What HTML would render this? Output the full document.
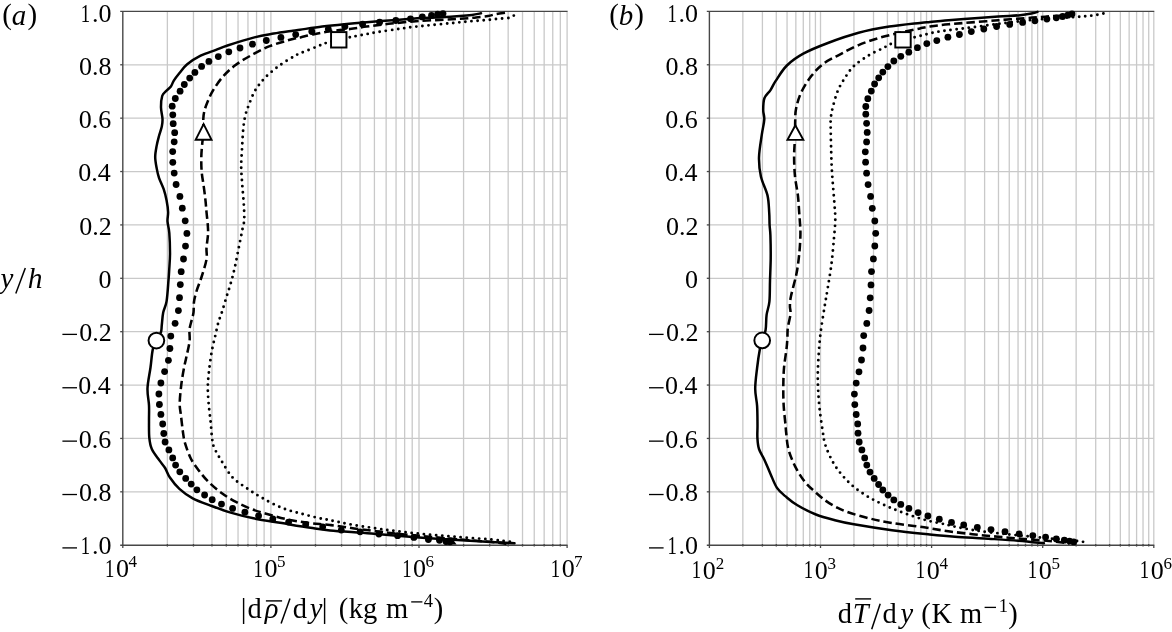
<!DOCTYPE html>
<html><head><meta charset="utf-8"><style>
html,body{margin:0;padding:0;background:#fff;}
body{width:1172px;height:632px;overflow:hidden;}
svg{display:block;}
text{font-family:"Liberation Serif",serif;fill:#000;}
.tx{will-change:transform;}
</style></head><body>
<svg width="1172" height="632" viewBox="0 0 1172 632">
<rect width="1172" height="632" fill="#fff"/>
<line x1="167.38" y1="11.4" x2="167.38" y2="545.2" stroke="#c9c9c9" stroke-width="1.3"/>
<line x1="193.46" y1="11.4" x2="193.46" y2="545.2" stroke="#c9c9c9" stroke-width="1.3"/>
<line x1="211.97" y1="11.4" x2="211.97" y2="545.2" stroke="#c9c9c9" stroke-width="1.3"/>
<line x1="226.32" y1="11.4" x2="226.32" y2="545.2" stroke="#c9c9c9" stroke-width="1.3"/>
<line x1="238.04" y1="11.4" x2="238.04" y2="545.2" stroke="#c9c9c9" stroke-width="1.3"/>
<line x1="247.96" y1="11.4" x2="247.96" y2="545.2" stroke="#c9c9c9" stroke-width="1.3"/>
<line x1="256.55" y1="11.4" x2="256.55" y2="545.2" stroke="#c9c9c9" stroke-width="1.3"/>
<line x1="264.12" y1="11.4" x2="264.12" y2="545.2" stroke="#c9c9c9" stroke-width="1.3"/>
<line x1="270.90" y1="11.4" x2="270.90" y2="545.2" stroke="#c9c9c9" stroke-width="1.3"/>
<line x1="315.48" y1="11.4" x2="315.48" y2="545.2" stroke="#c9c9c9" stroke-width="1.3"/>
<line x1="341.56" y1="11.4" x2="341.56" y2="545.2" stroke="#c9c9c9" stroke-width="1.3"/>
<line x1="360.07" y1="11.4" x2="360.07" y2="545.2" stroke="#c9c9c9" stroke-width="1.3"/>
<line x1="374.42" y1="11.4" x2="374.42" y2="545.2" stroke="#c9c9c9" stroke-width="1.3"/>
<line x1="386.14" y1="11.4" x2="386.14" y2="545.2" stroke="#c9c9c9" stroke-width="1.3"/>
<line x1="396.06" y1="11.4" x2="396.06" y2="545.2" stroke="#c9c9c9" stroke-width="1.3"/>
<line x1="404.65" y1="11.4" x2="404.65" y2="545.2" stroke="#c9c9c9" stroke-width="1.3"/>
<line x1="412.22" y1="11.4" x2="412.22" y2="545.2" stroke="#c9c9c9" stroke-width="1.3"/>
<line x1="419.00" y1="11.4" x2="419.00" y2="545.2" stroke="#c9c9c9" stroke-width="1.3"/>
<line x1="463.58" y1="11.4" x2="463.58" y2="545.2" stroke="#c9c9c9" stroke-width="1.3"/>
<line x1="489.66" y1="11.4" x2="489.66" y2="545.2" stroke="#c9c9c9" stroke-width="1.3"/>
<line x1="508.17" y1="11.4" x2="508.17" y2="545.2" stroke="#c9c9c9" stroke-width="1.3"/>
<line x1="522.52" y1="11.4" x2="522.52" y2="545.2" stroke="#c9c9c9" stroke-width="1.3"/>
<line x1="534.24" y1="11.4" x2="534.24" y2="545.2" stroke="#c9c9c9" stroke-width="1.3"/>
<line x1="544.16" y1="11.4" x2="544.16" y2="545.2" stroke="#c9c9c9" stroke-width="1.3"/>
<line x1="552.75" y1="11.4" x2="552.75" y2="545.2" stroke="#c9c9c9" stroke-width="1.3"/>
<line x1="560.32" y1="11.4" x2="560.32" y2="545.2" stroke="#c9c9c9" stroke-width="1.3"/>
<line x1="567.10" y1="11.4" x2="567.10" y2="545.2" stroke="#c9c9c9" stroke-width="1.3"/>
<line x1="122.8" y1="64.78" x2="567.10" y2="64.78" stroke="#c9c9c9" stroke-width="1.3"/>
<line x1="122.8" y1="118.16" x2="567.10" y2="118.16" stroke="#c9c9c9" stroke-width="1.3"/>
<line x1="122.8" y1="171.54" x2="567.10" y2="171.54" stroke="#c9c9c9" stroke-width="1.3"/>
<line x1="122.8" y1="224.92" x2="567.10" y2="224.92" stroke="#c9c9c9" stroke-width="1.3"/>
<line x1="122.8" y1="278.30" x2="567.10" y2="278.30" stroke="#c9c9c9" stroke-width="1.3"/>
<line x1="122.8" y1="331.68" x2="567.10" y2="331.68" stroke="#c9c9c9" stroke-width="1.3"/>
<line x1="122.8" y1="385.06" x2="567.10" y2="385.06" stroke="#c9c9c9" stroke-width="1.3"/>
<line x1="122.8" y1="438.44" x2="567.10" y2="438.44" stroke="#c9c9c9" stroke-width="1.3"/>
<line x1="122.8" y1="491.82" x2="567.10" y2="491.82" stroke="#c9c9c9" stroke-width="1.3"/>
<line x1="122.8" y1="11.4" x2="122.8" y2="545.2" stroke="#474747" stroke-width="1.4"/>
<line x1="120.2" y1="11.4" x2="567.60" y2="11.4" stroke="#474747" stroke-width="1.4"/>
<line x1="120.2" y1="545.2" x2="567.60" y2="545.2" stroke="#474747" stroke-width="1.4"/>
<line x1="120.2" y1="64.78" x2="122.8" y2="64.78" stroke="#474747" stroke-width="1.3"/>
<line x1="120.2" y1="118.16" x2="122.8" y2="118.16" stroke="#474747" stroke-width="1.3"/>
<line x1="120.2" y1="171.54" x2="122.8" y2="171.54" stroke="#474747" stroke-width="1.3"/>
<line x1="120.2" y1="224.92" x2="122.8" y2="224.92" stroke="#474747" stroke-width="1.3"/>
<line x1="120.2" y1="278.30" x2="122.8" y2="278.30" stroke="#474747" stroke-width="1.3"/>
<line x1="120.2" y1="331.68" x2="122.8" y2="331.68" stroke="#474747" stroke-width="1.3"/>
<line x1="120.2" y1="385.06" x2="122.8" y2="385.06" stroke="#474747" stroke-width="1.3"/>
<line x1="120.2" y1="438.44" x2="122.8" y2="438.44" stroke="#474747" stroke-width="1.3"/>
<line x1="120.2" y1="491.82" x2="122.8" y2="491.82" stroke="#474747" stroke-width="1.3"/>
<line x1="122.80" y1="545.2" x2="122.80" y2="548.0" stroke="#474747" stroke-width="1.3"/>
<line x1="167.38" y1="544.0" x2="167.38" y2="546.6" stroke="#474747" stroke-width="1.3"/>
<line x1="193.46" y1="544.0" x2="193.46" y2="546.6" stroke="#474747" stroke-width="1.3"/>
<line x1="211.97" y1="544.0" x2="211.97" y2="546.6" stroke="#474747" stroke-width="1.3"/>
<line x1="226.32" y1="544.0" x2="226.32" y2="546.6" stroke="#474747" stroke-width="1.3"/>
<line x1="238.04" y1="544.0" x2="238.04" y2="546.6" stroke="#474747" stroke-width="1.3"/>
<line x1="247.96" y1="544.0" x2="247.96" y2="546.6" stroke="#474747" stroke-width="1.3"/>
<line x1="256.55" y1="544.0" x2="256.55" y2="546.6" stroke="#474747" stroke-width="1.3"/>
<line x1="264.12" y1="544.0" x2="264.12" y2="546.6" stroke="#474747" stroke-width="1.3"/>
<line x1="270.90" y1="545.2" x2="270.90" y2="548.0" stroke="#474747" stroke-width="1.3"/>
<line x1="315.48" y1="544.0" x2="315.48" y2="546.6" stroke="#474747" stroke-width="1.3"/>
<line x1="341.56" y1="544.0" x2="341.56" y2="546.6" stroke="#474747" stroke-width="1.3"/>
<line x1="360.07" y1="544.0" x2="360.07" y2="546.6" stroke="#474747" stroke-width="1.3"/>
<line x1="374.42" y1="544.0" x2="374.42" y2="546.6" stroke="#474747" stroke-width="1.3"/>
<line x1="386.14" y1="544.0" x2="386.14" y2="546.6" stroke="#474747" stroke-width="1.3"/>
<line x1="396.06" y1="544.0" x2="396.06" y2="546.6" stroke="#474747" stroke-width="1.3"/>
<line x1="404.65" y1="544.0" x2="404.65" y2="546.6" stroke="#474747" stroke-width="1.3"/>
<line x1="412.22" y1="544.0" x2="412.22" y2="546.6" stroke="#474747" stroke-width="1.3"/>
<line x1="419.00" y1="545.2" x2="419.00" y2="548.0" stroke="#474747" stroke-width="1.3"/>
<line x1="463.58" y1="544.0" x2="463.58" y2="546.6" stroke="#474747" stroke-width="1.3"/>
<line x1="489.66" y1="544.0" x2="489.66" y2="546.6" stroke="#474747" stroke-width="1.3"/>
<line x1="508.17" y1="544.0" x2="508.17" y2="546.6" stroke="#474747" stroke-width="1.3"/>
<line x1="522.52" y1="544.0" x2="522.52" y2="546.6" stroke="#474747" stroke-width="1.3"/>
<line x1="534.24" y1="544.0" x2="534.24" y2="546.6" stroke="#474747" stroke-width="1.3"/>
<line x1="544.16" y1="544.0" x2="544.16" y2="546.6" stroke="#474747" stroke-width="1.3"/>
<line x1="552.75" y1="544.0" x2="552.75" y2="546.6" stroke="#474747" stroke-width="1.3"/>
<line x1="560.32" y1="544.0" x2="560.32" y2="546.6" stroke="#474747" stroke-width="1.3"/>
<line x1="567.10" y1="545.2" x2="567.10" y2="548.0" stroke="#474747" stroke-width="1.3"/>
<line x1="742.84" y1="11.4" x2="742.84" y2="545.2" stroke="#c9c9c9" stroke-width="1.3"/>
<line x1="762.41" y1="11.4" x2="762.41" y2="545.2" stroke="#c9c9c9" stroke-width="1.3"/>
<line x1="776.29" y1="11.4" x2="776.29" y2="545.2" stroke="#c9c9c9" stroke-width="1.3"/>
<line x1="787.06" y1="11.4" x2="787.06" y2="545.2" stroke="#c9c9c9" stroke-width="1.3"/>
<line x1="795.85" y1="11.4" x2="795.85" y2="545.2" stroke="#c9c9c9" stroke-width="1.3"/>
<line x1="803.29" y1="11.4" x2="803.29" y2="545.2" stroke="#c9c9c9" stroke-width="1.3"/>
<line x1="809.73" y1="11.4" x2="809.73" y2="545.2" stroke="#c9c9c9" stroke-width="1.3"/>
<line x1="815.42" y1="11.4" x2="815.42" y2="545.2" stroke="#c9c9c9" stroke-width="1.3"/>
<line x1="820.50" y1="11.4" x2="820.50" y2="545.2" stroke="#c9c9c9" stroke-width="1.3"/>
<line x1="853.94" y1="11.4" x2="853.94" y2="545.2" stroke="#c9c9c9" stroke-width="1.3"/>
<line x1="873.51" y1="11.4" x2="873.51" y2="545.2" stroke="#c9c9c9" stroke-width="1.3"/>
<line x1="887.39" y1="11.4" x2="887.39" y2="545.2" stroke="#c9c9c9" stroke-width="1.3"/>
<line x1="898.16" y1="11.4" x2="898.16" y2="545.2" stroke="#c9c9c9" stroke-width="1.3"/>
<line x1="906.95" y1="11.4" x2="906.95" y2="545.2" stroke="#c9c9c9" stroke-width="1.3"/>
<line x1="914.39" y1="11.4" x2="914.39" y2="545.2" stroke="#c9c9c9" stroke-width="1.3"/>
<line x1="920.83" y1="11.4" x2="920.83" y2="545.2" stroke="#c9c9c9" stroke-width="1.3"/>
<line x1="926.52" y1="11.4" x2="926.52" y2="545.2" stroke="#c9c9c9" stroke-width="1.3"/>
<line x1="931.60" y1="11.4" x2="931.60" y2="545.2" stroke="#c9c9c9" stroke-width="1.3"/>
<line x1="965.04" y1="11.4" x2="965.04" y2="545.2" stroke="#c9c9c9" stroke-width="1.3"/>
<line x1="984.61" y1="11.4" x2="984.61" y2="545.2" stroke="#c9c9c9" stroke-width="1.3"/>
<line x1="998.49" y1="11.4" x2="998.49" y2="545.2" stroke="#c9c9c9" stroke-width="1.3"/>
<line x1="1009.26" y1="11.4" x2="1009.26" y2="545.2" stroke="#c9c9c9" stroke-width="1.3"/>
<line x1="1018.05" y1="11.4" x2="1018.05" y2="545.2" stroke="#c9c9c9" stroke-width="1.3"/>
<line x1="1025.49" y1="11.4" x2="1025.49" y2="545.2" stroke="#c9c9c9" stroke-width="1.3"/>
<line x1="1031.93" y1="11.4" x2="1031.93" y2="545.2" stroke="#c9c9c9" stroke-width="1.3"/>
<line x1="1037.62" y1="11.4" x2="1037.62" y2="545.2" stroke="#c9c9c9" stroke-width="1.3"/>
<line x1="1042.70" y1="11.4" x2="1042.70" y2="545.2" stroke="#c9c9c9" stroke-width="1.3"/>
<line x1="1076.14" y1="11.4" x2="1076.14" y2="545.2" stroke="#c9c9c9" stroke-width="1.3"/>
<line x1="1095.71" y1="11.4" x2="1095.71" y2="545.2" stroke="#c9c9c9" stroke-width="1.3"/>
<line x1="1109.59" y1="11.4" x2="1109.59" y2="545.2" stroke="#c9c9c9" stroke-width="1.3"/>
<line x1="1120.36" y1="11.4" x2="1120.36" y2="545.2" stroke="#c9c9c9" stroke-width="1.3"/>
<line x1="1129.15" y1="11.4" x2="1129.15" y2="545.2" stroke="#c9c9c9" stroke-width="1.3"/>
<line x1="1136.59" y1="11.4" x2="1136.59" y2="545.2" stroke="#c9c9c9" stroke-width="1.3"/>
<line x1="1143.03" y1="11.4" x2="1143.03" y2="545.2" stroke="#c9c9c9" stroke-width="1.3"/>
<line x1="1148.72" y1="11.4" x2="1148.72" y2="545.2" stroke="#c9c9c9" stroke-width="1.3"/>
<line x1="1153.80" y1="11.4" x2="1153.80" y2="545.2" stroke="#c9c9c9" stroke-width="1.3"/>
<line x1="709.4" y1="64.78" x2="1153.80" y2="64.78" stroke="#c9c9c9" stroke-width="1.3"/>
<line x1="709.4" y1="118.16" x2="1153.80" y2="118.16" stroke="#c9c9c9" stroke-width="1.3"/>
<line x1="709.4" y1="171.54" x2="1153.80" y2="171.54" stroke="#c9c9c9" stroke-width="1.3"/>
<line x1="709.4" y1="224.92" x2="1153.80" y2="224.92" stroke="#c9c9c9" stroke-width="1.3"/>
<line x1="709.4" y1="278.30" x2="1153.80" y2="278.30" stroke="#c9c9c9" stroke-width="1.3"/>
<line x1="709.4" y1="331.68" x2="1153.80" y2="331.68" stroke="#c9c9c9" stroke-width="1.3"/>
<line x1="709.4" y1="385.06" x2="1153.80" y2="385.06" stroke="#c9c9c9" stroke-width="1.3"/>
<line x1="709.4" y1="438.44" x2="1153.80" y2="438.44" stroke="#c9c9c9" stroke-width="1.3"/>
<line x1="709.4" y1="491.82" x2="1153.80" y2="491.82" stroke="#c9c9c9" stroke-width="1.3"/>
<line x1="709.4" y1="11.4" x2="709.4" y2="545.2" stroke="#474747" stroke-width="1.4"/>
<line x1="706.8" y1="11.4" x2="1154.30" y2="11.4" stroke="#474747" stroke-width="1.4"/>
<line x1="706.8" y1="545.2" x2="1154.30" y2="545.2" stroke="#474747" stroke-width="1.4"/>
<line x1="706.8" y1="64.78" x2="709.4" y2="64.78" stroke="#474747" stroke-width="1.3"/>
<line x1="706.8" y1="118.16" x2="709.4" y2="118.16" stroke="#474747" stroke-width="1.3"/>
<line x1="706.8" y1="171.54" x2="709.4" y2="171.54" stroke="#474747" stroke-width="1.3"/>
<line x1="706.8" y1="224.92" x2="709.4" y2="224.92" stroke="#474747" stroke-width="1.3"/>
<line x1="706.8" y1="278.30" x2="709.4" y2="278.30" stroke="#474747" stroke-width="1.3"/>
<line x1="706.8" y1="331.68" x2="709.4" y2="331.68" stroke="#474747" stroke-width="1.3"/>
<line x1="706.8" y1="385.06" x2="709.4" y2="385.06" stroke="#474747" stroke-width="1.3"/>
<line x1="706.8" y1="438.44" x2="709.4" y2="438.44" stroke="#474747" stroke-width="1.3"/>
<line x1="706.8" y1="491.82" x2="709.4" y2="491.82" stroke="#474747" stroke-width="1.3"/>
<line x1="709.40" y1="545.2" x2="709.40" y2="548.0" stroke="#474747" stroke-width="1.3"/>
<line x1="742.84" y1="544.0" x2="742.84" y2="546.6" stroke="#474747" stroke-width="1.3"/>
<line x1="762.41" y1="544.0" x2="762.41" y2="546.6" stroke="#474747" stroke-width="1.3"/>
<line x1="776.29" y1="544.0" x2="776.29" y2="546.6" stroke="#474747" stroke-width="1.3"/>
<line x1="787.06" y1="544.0" x2="787.06" y2="546.6" stroke="#474747" stroke-width="1.3"/>
<line x1="795.85" y1="544.0" x2="795.85" y2="546.6" stroke="#474747" stroke-width="1.3"/>
<line x1="803.29" y1="544.0" x2="803.29" y2="546.6" stroke="#474747" stroke-width="1.3"/>
<line x1="809.73" y1="544.0" x2="809.73" y2="546.6" stroke="#474747" stroke-width="1.3"/>
<line x1="815.42" y1="544.0" x2="815.42" y2="546.6" stroke="#474747" stroke-width="1.3"/>
<line x1="820.50" y1="545.2" x2="820.50" y2="548.0" stroke="#474747" stroke-width="1.3"/>
<line x1="853.94" y1="544.0" x2="853.94" y2="546.6" stroke="#474747" stroke-width="1.3"/>
<line x1="873.51" y1="544.0" x2="873.51" y2="546.6" stroke="#474747" stroke-width="1.3"/>
<line x1="887.39" y1="544.0" x2="887.39" y2="546.6" stroke="#474747" stroke-width="1.3"/>
<line x1="898.16" y1="544.0" x2="898.16" y2="546.6" stroke="#474747" stroke-width="1.3"/>
<line x1="906.95" y1="544.0" x2="906.95" y2="546.6" stroke="#474747" stroke-width="1.3"/>
<line x1="914.39" y1="544.0" x2="914.39" y2="546.6" stroke="#474747" stroke-width="1.3"/>
<line x1="920.83" y1="544.0" x2="920.83" y2="546.6" stroke="#474747" stroke-width="1.3"/>
<line x1="926.52" y1="544.0" x2="926.52" y2="546.6" stroke="#474747" stroke-width="1.3"/>
<line x1="931.60" y1="545.2" x2="931.60" y2="548.0" stroke="#474747" stroke-width="1.3"/>
<line x1="965.04" y1="544.0" x2="965.04" y2="546.6" stroke="#474747" stroke-width="1.3"/>
<line x1="984.61" y1="544.0" x2="984.61" y2="546.6" stroke="#474747" stroke-width="1.3"/>
<line x1="998.49" y1="544.0" x2="998.49" y2="546.6" stroke="#474747" stroke-width="1.3"/>
<line x1="1009.26" y1="544.0" x2="1009.26" y2="546.6" stroke="#474747" stroke-width="1.3"/>
<line x1="1018.05" y1="544.0" x2="1018.05" y2="546.6" stroke="#474747" stroke-width="1.3"/>
<line x1="1025.49" y1="544.0" x2="1025.49" y2="546.6" stroke="#474747" stroke-width="1.3"/>
<line x1="1031.93" y1="544.0" x2="1031.93" y2="546.6" stroke="#474747" stroke-width="1.3"/>
<line x1="1037.62" y1="544.0" x2="1037.62" y2="546.6" stroke="#474747" stroke-width="1.3"/>
<line x1="1042.70" y1="545.2" x2="1042.70" y2="548.0" stroke="#474747" stroke-width="1.3"/>
<line x1="1076.14" y1="544.0" x2="1076.14" y2="546.6" stroke="#474747" stroke-width="1.3"/>
<line x1="1095.71" y1="544.0" x2="1095.71" y2="546.6" stroke="#474747" stroke-width="1.3"/>
<line x1="1109.59" y1="544.0" x2="1109.59" y2="546.6" stroke="#474747" stroke-width="1.3"/>
<line x1="1120.36" y1="544.0" x2="1120.36" y2="546.6" stroke="#474747" stroke-width="1.3"/>
<line x1="1129.15" y1="544.0" x2="1129.15" y2="546.6" stroke="#474747" stroke-width="1.3"/>
<line x1="1136.59" y1="544.0" x2="1136.59" y2="546.6" stroke="#474747" stroke-width="1.3"/>
<line x1="1143.03" y1="544.0" x2="1143.03" y2="546.6" stroke="#474747" stroke-width="1.3"/>
<line x1="1148.72" y1="544.0" x2="1148.72" y2="546.6" stroke="#474747" stroke-width="1.3"/>
<line x1="1153.80" y1="545.2" x2="1153.80" y2="548.0" stroke="#474747" stroke-width="1.3"/>
<path d="M513.80,15.60 C513.15,15.95 511.60,17.23 509.90,17.70 C508.20,18.17 505.70,18.20 503.60,18.40 C501.50,18.60 499.38,18.70 497.30,18.90 C495.22,19.10 493.18,19.40 491.10,19.60 C489.02,19.80 486.90,19.92 484.80,20.10 C482.70,20.28 480.60,20.53 478.50,20.70 C476.40,20.87 474.28,20.93 472.20,21.10 C470.12,21.27 468.03,21.50 466.00,21.70 C463.97,21.90 468.28,21.48 460.00,22.30 C451.72,23.12 426.35,25.52 416.30,26.60 C406.25,27.68 406.15,27.88 399.70,28.80 C393.25,29.72 384.07,31.03 377.60,32.10 C371.13,33.17 365.90,34.27 360.90,35.20 C355.90,36.13 352.95,36.55 347.60,37.70 C342.25,38.85 333.90,40.62 328.80,42.10 C323.70,43.58 321.63,44.78 317.00,46.60 C312.37,48.42 304.92,51.33 301.00,53.00 C297.08,54.67 297.25,54.38 293.50,56.60 C289.75,58.82 283.25,62.77 278.50,66.30 C273.75,69.83 268.92,73.72 265.00,77.80 C261.08,81.88 257.67,86.33 255.00,90.80 C252.33,95.27 250.60,100.53 249.00,104.60 C247.40,108.67 246.35,111.22 245.40,115.20 C244.45,119.18 243.85,123.12 243.30,128.50 C242.75,133.88 242.45,141.17 242.10,147.50 C241.75,153.83 241.17,160.18 241.20,166.50 C241.23,172.82 241.87,179.08 242.30,185.40 C242.73,191.72 243.48,198.63 243.80,204.40 C244.12,210.17 244.42,215.90 244.20,220.00 C243.98,224.10 243.42,224.33 242.50,229.00 C241.58,233.67 239.97,241.67 238.70,248.00 C237.43,254.33 236.17,261.32 234.90,267.00 C233.63,272.68 232.52,277.05 231.10,282.10 C229.68,287.15 227.95,292.23 226.40,297.30 C224.85,302.37 223.12,308.38 221.80,312.50 C220.48,316.62 219.57,318.22 218.50,322.00 C217.43,325.78 216.55,330.15 215.40,335.20 C214.25,340.25 212.70,345.97 211.60,352.30 C210.50,358.63 209.43,367.20 208.80,373.20 C208.17,379.20 207.80,382.93 207.80,388.30 C207.80,393.67 208.32,399.70 208.80,405.40 C209.28,411.10 210.17,417.12 210.70,422.50 C211.23,427.88 211.47,433.62 212.00,437.70 C212.53,441.78 212.37,443.22 213.90,447.00 C215.43,450.78 218.08,455.32 221.20,460.40 C224.32,465.48 228.17,472.75 232.60,477.50 C237.03,482.25 242.73,485.42 247.80,488.90 C252.87,492.38 257.32,495.23 263.00,498.40 C268.68,501.57 275.58,505.37 281.90,507.90 C288.22,510.43 294.57,511.87 300.90,513.60 C307.23,515.33 315.05,517.20 319.90,518.30 C324.75,519.40 324.30,519.08 330.00,520.20 C335.70,521.32 344.38,523.35 354.10,525.00 C363.82,526.65 376.92,528.60 388.30,530.10 C399.68,531.60 411.03,532.87 422.40,534.00 C433.77,535.13 445.13,535.98 456.50,536.90 C467.87,537.82 481.22,538.65 490.60,539.50 C499.98,540.35 509.10,541.58 512.80,542.00" fill="none" stroke="#000" stroke-width="2.9" stroke-dasharray="0 6.15" stroke-linecap="round"/>
<path d="M505.00,12.80 C503.57,13.00 499.23,13.47 496.40,14.00 C493.57,14.53 491.40,15.43 488.00,16.00 C484.60,16.57 480.00,16.97 476.00,17.40 C472.00,17.83 473.33,18.00 464.00,18.60 C454.67,19.20 432.57,20.13 420.00,21.00 C407.43,21.87 397.52,22.87 388.60,23.80 C379.68,24.73 372.95,25.73 366.50,26.60 C360.05,27.47 356.10,28.22 349.90,29.00 C343.70,29.78 335.62,30.37 329.30,31.30 C322.98,32.23 316.70,33.62 312.00,34.60 C307.30,35.58 304.30,36.47 301.10,37.20 C297.90,37.93 298.03,37.52 292.80,39.00 C287.57,40.48 276.75,43.32 269.70,46.10 C262.65,48.88 256.25,52.50 250.50,55.70 C244.75,58.90 239.82,61.78 235.20,65.30 C230.58,68.82 226.47,72.65 222.80,76.80 C219.13,80.95 215.73,86.05 213.20,90.20 C210.67,94.35 209.08,98.18 207.60,101.70 C206.12,105.22 205.02,108.42 204.30,111.30 C203.58,114.18 203.42,115.50 203.30,119.00 C203.18,122.50 203.77,128.30 203.60,132.30 C203.43,136.30 202.68,138.88 202.30,143.00 C201.92,147.12 201.40,152.15 201.30,157.00 C201.20,161.85 201.32,167.37 201.70,172.10 C202.08,176.83 202.97,180.65 203.60,185.40 C204.23,190.15 205.02,196.17 205.50,200.60 C205.98,205.03 206.12,207.90 206.50,212.00 C206.88,216.10 207.55,221.42 207.80,225.20 C208.05,228.98 208.22,230.90 208.00,234.70 C207.78,238.50 206.75,243.88 206.50,248.00 C206.25,252.12 207.30,254.65 206.50,259.40 C205.70,264.15 203.28,271.45 201.70,276.50 C200.12,281.55 198.27,285.60 197.00,289.70 C195.73,293.80 194.68,297.30 194.10,301.10 C193.52,304.90 193.90,309.35 193.50,312.50 C193.10,315.65 192.37,317.17 191.70,320.00 C191.03,322.83 189.85,326.02 189.50,329.50 C189.15,332.98 190.02,336.78 189.60,340.90 C189.18,345.02 187.92,349.77 187.00,354.20 C186.08,358.63 185.05,362.43 184.10,367.50 C183.15,372.57 182.03,378.60 181.30,384.60 C180.57,390.60 179.77,398.45 179.70,403.50 C179.63,408.55 180.32,409.83 180.90,414.90 C181.48,419.97 182.50,429.17 183.20,433.90 C183.90,438.63 183.83,439.20 185.10,443.30 C186.37,447.40 188.58,454.07 190.80,458.50 C193.02,462.93 195.55,466.10 198.40,469.90 C201.25,473.70 204.10,477.50 207.90,481.30 C211.70,485.10 216.45,489.22 221.20,492.70 C225.95,496.18 231.02,499.35 236.40,502.20 C241.78,505.05 247.50,507.58 253.50,509.80 C259.50,512.02 266.08,513.77 272.40,515.50 C278.72,517.23 285.07,518.93 291.40,520.20 C297.73,521.47 303.97,522.30 310.40,523.10 C316.83,523.90 322.72,524.12 330.00,525.00 C337.28,525.88 344.38,527.12 354.10,528.40 C363.82,529.68 376.92,531.42 388.30,532.70 C399.68,533.98 410.45,534.97 422.40,536.10 C434.35,537.23 447.57,538.43 460.00,539.50 C472.43,540.57 489.00,541.70 497.00,542.50 C505.00,543.30 506.17,544.00 508.00,544.30" fill="none" stroke="#000" stroke-width="2.55" stroke-dasharray="8.4 4.0" stroke-linejoin="round"/>
<g fill="#000"><circle cx="172.8" cy="114.8" r="3.4"/><circle cx="172.2" cy="106.2" r="3.4"/><circle cx="175.3" cy="98.5" r="3.4"/><circle cx="180.1" cy="91.2" r="3.4"/><circle cx="184.3" cy="84.5" r="3.4"/><circle cx="189.7" cy="78.1" r="3.4"/><circle cx="194.9" cy="72.4" r="3.4"/><circle cx="201.6" cy="66.4" r="3.4"/><circle cx="208.9" cy="61.4" r="3.4"/><circle cx="218.3" cy="56.6" r="3.4"/><circle cx="228.8" cy="51.8" r="3.4"/><circle cx="240" cy="48" r="3.4"/><circle cx="252.5" cy="44.2" r="3.4"/><circle cx="266.3" cy="40.5" r="3.4"/><circle cx="280.9" cy="37.4" r="3.4"/><circle cx="295.7" cy="34.6" r="3.4"/><circle cx="311.8" cy="31.5" r="3.4"/><circle cx="328.3" cy="29.1" r="3.4"/><circle cx="344.9" cy="26.6" r="3.4"/><circle cx="362.6" cy="24.2" r="3.4"/><circle cx="379.6" cy="22.2" r="3.4"/><circle cx="395.8" cy="20.5" r="3.4"/><circle cx="410.5" cy="18.8" r="3.4"/><circle cx="422.3" cy="16.9" r="3.4"/><circle cx="431.5" cy="15.4" r="3.4"/><circle cx="437.6" cy="14.2" r="3.4"/><circle cx="443" cy="13.6" r="3.4"/><circle cx="173.2" cy="123.7" r="3.4"/><circle cx="174.7" cy="132.7" r="3.4"/><circle cx="174.2" cy="141.8" r="3.4"/><circle cx="172.7" cy="151.6" r="3.4"/><circle cx="172.8" cy="162.3" r="3.4"/><circle cx="174.2" cy="173.1" r="3.4"/><circle cx="176.1" cy="184.5" r="3.4"/><circle cx="179.9" cy="196.4" r="3.4"/><circle cx="182.3" cy="208.2" r="3.4"/><circle cx="185.2" cy="220.8" r="3.4"/><circle cx="186.9" cy="233.4" r="3.4"/><circle cx="185.5" cy="246.1" r="3.4"/><circle cx="183.5" cy="259" r="3.4"/><circle cx="181.2" cy="271.7" r="3.4"/><circle cx="180.3" cy="284.6" r="3.4"/><circle cx="179.5" cy="297.7" r="3.4"/><circle cx="178.4" cy="310.6" r="3.4"/><circle cx="175.1" cy="323.3" r="3.4"/><circle cx="170.8" cy="336.1" r="3.4"/><circle cx="169.9" cy="348.5" r="3.4"/><circle cx="168.4" cy="360.3" r="3.4"/><circle cx="164.6" cy="371.6" r="3.4"/><circle cx="160.9" cy="383" r="3.4"/><circle cx="158.9" cy="394" r="3.4"/><circle cx="159.4" cy="404.5" r="3.4"/><circle cx="160.9" cy="414.4" r="3.4"/><circle cx="162.7" cy="424" r="3.4"/><circle cx="163.8" cy="433.5" r="3.4"/><circle cx="165.1" cy="442" r="3.4"/><circle cx="168.9" cy="449.9" r="3.4"/><circle cx="172.7" cy="457.9" r="3.4"/><circle cx="175.6" cy="465.1" r="3.4"/><circle cx="179.8" cy="471.8" r="3.4"/><circle cx="185.7" cy="478.4" r="3.4"/><circle cx="191.2" cy="484.1" r="3.4"/><circle cx="196.9" cy="489.8" r="3.4"/><circle cx="204.6" cy="495" r="3.4"/><circle cx="212.2" cy="499.7" r="3.4"/><circle cx="221.5" cy="504.1" r="3.4"/><circle cx="232.6" cy="508.4" r="3.4"/><circle cx="244.9" cy="512.2" r="3.4"/><circle cx="258.6" cy="515.8" r="3.4"/><circle cx="272.8" cy="518.9" r="3.4"/><circle cx="288.6" cy="522.1" r="3.4"/><circle cx="305.7" cy="524.4" r="3.4"/><circle cx="322.7" cy="526.8" r="3.4"/><circle cx="341.3" cy="530.1" r="3.4"/><circle cx="360.1" cy="531.8" r="3.4"/><circle cx="378.9" cy="534" r="3.4"/><circle cx="397.6" cy="535.7" r="3.4"/><circle cx="413.9" cy="537.4" r="3.4"/><circle cx="428.4" cy="539.5" r="3.4"/><circle cx="439.5" cy="540.3" r="3.4"/><circle cx="446" cy="541.5" r="3.4"/><circle cx="450" cy="541.8" r="3.4"/></g>
<path d="M481.00,13.30 C479.50,13.57 475.50,14.43 472.00,14.90 C468.50,15.37 465.17,15.70 460.00,16.10 C454.83,16.50 447.67,16.97 441.00,17.30 C434.33,17.63 425.03,17.85 420.00,18.10 C414.97,18.35 416.03,18.40 410.80,18.80 C405.57,19.20 395.98,19.93 388.60,20.50 C381.22,21.07 373.88,21.58 366.50,22.20 C359.12,22.82 351.68,23.47 344.30,24.20 C336.92,24.93 329.58,25.68 322.20,26.60 C314.82,27.52 304.90,29.02 300.00,29.70 C295.10,30.38 297.20,30.05 292.80,30.70 C288.40,31.35 280.00,32.48 273.60,33.60 C267.20,34.72 262.08,35.42 254.40,37.40 C246.72,39.38 233.90,43.42 227.50,45.50 C221.10,47.58 220.48,48.20 216.00,49.90 C211.52,51.60 205.40,53.30 200.60,55.70 C195.80,58.10 190.72,61.42 187.20,64.30 C183.68,67.18 181.73,70.28 179.50,73.00 C177.27,75.72 175.23,78.37 173.80,80.60 C172.37,82.83 172.20,84.63 170.90,86.40 C169.60,88.17 167.45,89.60 166.00,91.20 C164.55,92.80 163.03,93.28 162.20,96.00 C161.37,98.72 160.95,103.67 161.00,107.50 C161.05,111.33 162.37,115.82 162.50,119.00 C162.63,122.18 162.38,123.77 161.80,126.60 C161.22,129.43 159.85,132.83 159.00,136.00 C158.15,139.17 157.33,142.10 156.70,145.60 C156.07,149.10 155.20,153.20 155.20,157.00 C155.20,160.80 156.07,164.93 156.70,168.40 C157.33,171.87 157.83,174.33 159.00,177.80 C160.17,181.27 162.43,185.40 163.70,189.20 C164.97,193.00 165.87,196.80 166.60,200.60 C167.33,204.40 167.95,208.53 168.10,212.00 C168.25,215.47 167.30,217.93 167.50,221.40 C167.70,224.87 168.88,227.37 169.30,232.80 C169.72,238.23 170.02,247.80 170.00,254.00 C169.98,260.20 169.45,265.63 169.20,270.00 C168.95,274.37 168.93,275.02 168.50,280.20 C168.07,285.38 167.48,295.72 166.60,301.10 C165.72,306.48 164.00,308.52 163.20,312.50 C162.40,316.48 162.18,321.70 161.80,325.00 C161.42,328.30 161.77,329.72 160.90,332.30 C160.03,334.88 157.95,337.65 156.60,340.50 C155.25,343.35 153.82,344.90 152.80,349.40 C151.78,353.90 151.38,361.02 150.50,367.50 C149.62,373.98 147.75,381.98 147.50,388.30 C147.25,394.62 148.75,400.02 149.00,405.40 C149.25,410.78 148.95,415.23 149.00,420.60 C149.05,425.97 148.83,432.87 149.30,437.60 C149.77,442.33 150.12,445.20 151.80,449.00 C153.48,452.80 157.18,457.23 159.40,460.40 C161.62,463.57 163.35,465.15 165.10,468.00 C166.85,470.85 167.52,474.02 169.90,477.50 C172.28,480.98 175.60,485.42 179.40,488.90 C183.20,492.38 187.32,495.55 192.70,498.40 C198.08,501.25 205.37,503.63 211.70,506.00 C218.03,508.37 223.73,510.55 230.70,512.60 C237.67,514.65 244.97,516.55 253.50,518.30 C262.03,520.05 272.42,521.52 281.90,523.10 C291.38,524.68 302.38,526.58 310.40,527.80 C318.42,529.02 319.87,529.45 330.00,530.40 C340.13,531.35 355.80,532.27 371.20,533.50 C386.60,534.73 408.75,536.75 422.40,537.80 C436.05,538.85 441.73,539.10 453.10,539.80 C464.47,540.50 480.37,541.43 490.60,542.00 C500.83,542.57 510.52,543.00 514.50,543.20" fill="none" stroke="#000" stroke-width="2.5" stroke-linejoin="round" stroke-linecap="round"/>
<path d="M443.8,538.2 L451.5,537.6 L456.6,544.6 L444.6,544.6 Z" fill="#000"/>
<path d="M1103.40,13.50 C1102.37,13.72 1099.30,14.43 1097.20,14.80 C1095.10,15.17 1092.87,15.45 1090.80,15.70 C1088.73,15.95 1086.87,16.12 1084.80,16.30 C1082.73,16.48 1081.45,16.58 1078.40,16.80 C1075.35,17.02 1074.17,17.08 1066.50,17.60 C1058.83,18.12 1043.77,18.85 1032.40,19.90 C1021.03,20.95 1009.68,22.48 998.30,23.90 C986.92,25.32 972.98,27.27 964.10,28.40 C955.22,29.53 950.12,30.00 945.00,30.70 C939.88,31.40 938.25,31.57 933.40,32.60 C928.55,33.63 922.57,35.17 915.90,36.90 C909.23,38.63 898.85,41.13 893.40,43.00 C887.95,44.87 887.30,46.05 883.20,48.10 C879.10,50.15 873.58,52.40 868.80,55.30 C864.02,58.20 858.25,62.08 854.50,65.50 C850.75,68.92 849.03,71.70 846.30,75.80 C843.57,79.90 840.32,84.98 838.10,90.10 C835.88,95.22 834.22,101.85 833.00,106.50 C831.78,111.15 831.18,114.25 830.80,118.00 C830.42,121.75 830.65,124.00 830.70,129.00 C830.75,134.00 830.93,141.68 831.10,148.00 C831.27,154.32 831.38,160.58 831.70,166.90 C832.02,173.22 832.53,179.57 833.00,185.90 C833.47,192.23 834.12,199.22 834.50,204.90 C834.88,210.58 835.40,214.32 835.30,220.00 C835.20,225.68 834.53,231.72 833.90,239.00 C833.27,246.28 832.53,255.48 831.50,263.70 C830.47,271.92 828.87,281.03 827.70,288.30 C826.53,295.57 825.67,300.02 824.50,307.30 C823.33,314.58 821.65,324.42 820.70,332.00 C819.75,339.58 819.28,345.85 818.80,352.80 C818.32,359.75 817.90,367.38 817.80,373.70 C817.70,380.02 817.88,384.70 818.20,390.70 C818.52,396.70 818.97,403.05 819.70,409.70 C820.43,416.35 821.65,424.68 822.60,430.60 C823.55,436.52 823.67,439.92 825.40,445.20 C827.13,450.48 830.15,457.23 833.00,462.30 C835.85,467.37 839.02,471.50 842.50,475.60 C845.98,479.70 849.47,483.27 853.90,486.90 C858.33,490.53 863.72,494.23 869.10,497.40 C874.48,500.57 880.18,503.22 886.20,505.90 C892.22,508.58 898.57,511.12 905.20,513.50 C911.83,515.88 919.37,518.40 926.00,520.20 C932.63,522.00 940.00,523.18 945.00,524.30 C950.00,525.42 952.18,526.10 956.00,526.90 C959.82,527.70 963.78,528.38 967.90,529.10 C972.02,529.82 975.43,530.48 980.70,531.20 C985.97,531.92 994.23,532.80 999.50,533.40 C1004.77,534.00 1008.03,534.37 1012.30,534.80 C1016.57,535.23 1018.82,535.38 1025.10,536.00 C1031.38,536.62 1040.77,537.60 1050.00,538.50 C1059.23,539.40 1074.42,540.55 1080.50,541.40 C1086.58,542.25 1085.50,543.23 1086.50,543.60" fill="none" stroke="#000" stroke-width="2.9" stroke-dasharray="0 6.15" stroke-linecap="round"/>
<path d="M1073.30,12.30 C1072.17,12.75 1070.38,14.33 1066.50,15.00 C1062.62,15.67 1055.68,15.87 1050.00,16.30 C1044.32,16.73 1041.02,16.93 1032.40,17.60 C1023.78,18.27 1009.68,19.40 998.30,20.30 C986.92,21.20 972.98,22.28 964.10,23.00 C955.22,23.72 950.68,24.02 945.00,24.60 C939.32,25.18 934.17,25.87 930.00,26.50 C925.83,27.13 925.07,27.35 920.00,28.40 C914.93,29.45 906.42,31.22 899.60,32.80 C892.78,34.38 885.93,35.85 879.10,37.90 C872.27,39.95 865.08,42.37 858.60,45.10 C852.12,47.83 846.00,51.23 840.20,54.30 C834.40,57.37 828.58,59.92 823.80,63.50 C819.02,67.08 815.25,71.02 811.50,75.80 C807.75,80.58 803.87,86.75 801.30,92.20 C798.73,97.65 797.12,103.63 796.10,108.50 C795.08,113.37 795.35,117.40 795.20,121.40 C795.05,125.40 795.28,129.02 795.20,132.50 C795.12,135.98 794.88,138.15 794.70,142.30 C794.52,146.45 794.05,151.72 794.10,157.40 C794.15,163.08 794.37,170.07 795.00,176.40 C795.63,182.73 797.20,189.38 797.90,195.40 C798.60,201.42 798.83,207.57 799.20,212.50 C799.57,217.43 799.90,221.22 800.10,225.00 C800.30,228.78 800.52,230.65 800.40,235.20 C800.28,239.75 800.03,245.98 799.40,252.30 C798.77,258.62 798.00,265.82 796.60,273.10 C795.20,280.38 792.12,290.52 791.00,296.00 C789.88,301.48 789.98,303.00 789.90,306.00 C789.82,309.00 790.85,310.33 790.50,314.00 C790.15,317.67 788.32,324.00 787.80,328.00 C787.28,332.00 787.62,334.50 787.40,338.00 C787.18,341.50 787.07,344.00 786.50,349.00 C785.93,354.00 784.53,361.68 784.00,368.00 C783.47,374.32 783.35,380.58 783.30,386.90 C783.25,393.22 783.33,399.57 783.70,405.90 C784.07,412.23 785.08,420.38 785.50,424.90 C785.92,429.42 785.72,428.98 786.20,433.00 C786.68,437.02 786.93,443.48 788.40,449.00 C789.87,454.52 792.32,460.72 795.00,466.10 C797.68,471.48 801.02,476.88 804.50,481.30 C807.98,485.72 811.78,488.97 815.90,492.60 C820.02,496.23 824.13,499.93 829.20,503.10 C834.27,506.27 839.65,509.07 846.30,511.60 C852.95,514.13 861.50,516.40 869.10,518.30 C876.70,520.20 883.37,521.58 891.90,523.00 C900.43,524.42 910.62,525.38 920.30,526.80 C929.98,528.22 939.37,530.07 950.00,531.50 C960.63,532.93 972.72,534.23 984.10,535.40 C995.48,536.57 1006.92,537.50 1018.30,538.50 C1029.68,539.50 1043.87,540.55 1052.40,541.40 C1060.93,542.25 1066.65,543.23 1069.50,543.60" fill="none" stroke="#000" stroke-width="2.55" stroke-dasharray="8.4 4.0" stroke-linejoin="round"/>
<g fill="#000"><circle cx="1072" cy="14" r="3.4"/><circle cx="1067.8" cy="15.2" r="3.4"/><circle cx="1062.7" cy="16.5" r="3.4"/><circle cx="1056.3" cy="17.8" r="3.4"/><circle cx="1046.9" cy="19.1" r="3.4"/><circle cx="1034.9" cy="20.8" r="3.4"/><circle cx="1022.6" cy="22.4" r="3.4"/><circle cx="1009.7" cy="24.4" r="3.4"/><circle cx="996.6" cy="26.5" r="3.4"/><circle cx="983.8" cy="29" r="3.4"/><circle cx="971.3" cy="31.6" r="3.4"/><circle cx="959.4" cy="34.5" r="3.4"/><circle cx="947.9" cy="37.2" r="3.4"/><circle cx="936.8" cy="40.6" r="3.4"/><circle cx="926.8" cy="43.6" r="3.4"/><circle cx="917.4" cy="47.7" r="3.4"/><circle cx="908.8" cy="52.2" r="3.4"/><circle cx="900.8" cy="56.3" r="3.4"/><circle cx="893.8" cy="61" r="3.4"/><circle cx="887.9" cy="66.6" r="3.4"/><circle cx="882.8" cy="72.1" r="3.4"/><circle cx="878.7" cy="77.8" r="3.4"/><circle cx="874.6" cy="84" r="3.4"/><circle cx="871.3" cy="91.1" r="3.4"/><circle cx="867.8" cy="98.7" r="3.4"/><circle cx="865.8" cy="106.5" r="3.4"/><circle cx="865.8" cy="114.2" r="3.4"/><circle cx="866.6" cy="123.3" r="3.4"/><circle cx="867.2" cy="132.4" r="3.4"/><circle cx="866.6" cy="141.9" r="3.4"/><circle cx="865.3" cy="151.8" r="3.4"/><circle cx="865.6" cy="162.2" r="3.4"/><circle cx="866.6" cy="173.2" r="3.4"/><circle cx="868.1" cy="184.6" r="3.4"/><circle cx="870.6" cy="196.4" r="3.4"/><circle cx="872.3" cy="208.3" r="3.4"/><circle cx="874.8" cy="221" r="3.4"/><circle cx="875.7" cy="233.3" r="3.4"/><circle cx="874.8" cy="246" r="3.4"/><circle cx="873.4" cy="258.9" r="3.4"/><circle cx="871.5" cy="271.6" r="3.4"/><circle cx="871" cy="284.9" r="3.4"/><circle cx="870.2" cy="297.8" r="3.4"/><circle cx="869.1" cy="310.5" r="3.4"/><circle cx="866.8" cy="323.4" r="3.4"/><circle cx="863.7" cy="335.6" r="3.4"/><circle cx="863" cy="348" r="3.4"/><circle cx="861.5" cy="360" r="3.4"/><circle cx="859" cy="371.8" r="3.4"/><circle cx="856.2" cy="383.1" r="3.4"/><circle cx="854.4" cy="394.1" r="3.4"/><circle cx="854.8" cy="404.6" r="3.4"/><circle cx="856.2" cy="414.5" r="3.4"/><circle cx="857.7" cy="423.9" r="3.4"/><circle cx="858" cy="433.2" r="3.4"/><circle cx="859.2" cy="442" r="3.4"/><circle cx="861.9" cy="449.9" r="3.4"/><circle cx="864.7" cy="457.9" r="3.4"/><circle cx="866.8" cy="465.1" r="3.4"/><circle cx="870" cy="472.1" r="3.4"/><circle cx="874.2" cy="478.4" r="3.4"/><circle cx="878.6" cy="484.5" r="3.4"/><circle cx="882.8" cy="490" r="3.4"/><circle cx="888.1" cy="495.1" r="3.4"/><circle cx="893.8" cy="499.9" r="3.4"/><circle cx="900.8" cy="504.4" r="3.4"/><circle cx="908.9" cy="508.4" r="3.4"/><circle cx="918.1" cy="512.6" r="3.4"/><circle cx="927.9" cy="516" r="3.4"/><circle cx="939.3" cy="519.2" r="3.4"/><circle cx="951.5" cy="522.4" r="3.4"/><circle cx="963.7" cy="524.9" r="3.4"/><circle cx="977.3" cy="527.4" r="3.4"/><circle cx="991" cy="529.6" r="3.4"/><circle cx="1005" cy="531.7" r="3.4"/><circle cx="1019.1" cy="533.9" r="3.4"/><circle cx="1032.8" cy="535.6" r="3.4"/><circle cx="1045.6" cy="537.1" r="3.4"/><circle cx="1056.3" cy="538.9" r="3.4"/><circle cx="1064.3" cy="540.2" r="3.4"/><circle cx="1069.5" cy="541.1" r="3.4"/><circle cx="1073.7" cy="541.9" r="3.4"/></g>
<path d="M1037.50,11.90 C1036.65,12.13 1035.32,12.75 1032.40,13.30 C1029.48,13.85 1025.68,14.65 1020.00,15.20 C1014.32,15.75 1007.62,15.95 998.30,16.60 C988.98,17.25 972.98,18.43 964.10,19.10 C955.22,19.77 950.68,20.12 945.00,20.60 C939.32,21.08 934.17,21.62 930.00,22.00 C925.83,22.38 926.78,22.13 920.00,22.90 C913.22,23.67 899.53,24.95 889.30,26.60 C879.07,28.25 868.83,30.07 858.60,32.80 C848.37,35.53 837.12,39.52 827.90,43.00 C818.68,46.48 810.13,49.95 803.30,53.70 C796.47,57.45 791.50,60.97 786.90,65.50 C782.30,70.03 778.43,76.80 775.70,80.90 C772.97,85.00 772.38,87.20 770.50,90.10 C768.62,93.00 765.62,94.93 764.40,98.30 C763.18,101.67 763.22,106.77 763.20,110.30 C763.18,113.83 764.53,115.43 764.30,119.50 C764.07,123.57 762.68,128.38 761.80,134.70 C760.92,141.02 759.15,150.45 759.00,157.40 C758.85,164.35 759.48,170.07 760.90,176.40 C762.32,182.73 766.12,189.38 767.50,195.40 C768.88,201.42 768.85,207.57 769.20,212.50 C769.55,217.43 769.40,221.22 769.60,225.00 C769.80,228.78 770.22,229.70 770.40,235.20 C770.58,240.70 770.77,250.42 770.70,258.00 C770.63,265.58 770.22,273.43 770.00,280.70 C769.78,287.97 769.97,295.90 769.40,301.60 C768.83,307.30 767.23,310.17 766.60,314.90 C765.97,319.63 766.32,325.77 765.60,330.00 C764.88,334.23 763.25,337.13 762.30,340.30 C761.35,343.47 760.77,344.38 759.90,349.00 C759.03,353.62 757.88,361.37 757.10,368.00 C756.32,374.63 755.20,382.48 755.20,388.80 C755.20,395.12 756.72,399.88 757.10,405.90 C757.48,411.92 757.45,419.62 757.50,424.90 C757.55,430.18 757.15,433.58 757.40,437.60 C757.65,441.62 757.78,445.20 759.00,449.00 C760.22,452.80 762.80,456.28 764.70,460.40 C766.60,464.52 768.35,469.12 770.40,473.70 C772.45,478.28 774.47,484.12 777.00,487.90 C779.53,491.68 782.27,493.55 785.60,496.40 C788.93,499.25 791.95,501.98 797.00,505.00 C802.05,508.02 809.58,511.97 815.90,514.50 C822.22,517.03 828.57,518.57 834.90,520.20 C841.23,521.83 844.40,522.63 853.90,524.30 C863.40,525.97 879.25,528.52 891.90,530.20 C904.55,531.88 919.28,533.32 929.80,534.40 C940.32,535.48 945.95,536.02 955.00,536.70 C964.05,537.38 973.55,537.83 984.10,538.50 C994.65,539.17 1008.33,539.90 1018.30,540.70 C1028.27,541.50 1039.63,542.87 1043.90,543.30" fill="none" stroke="#000" stroke-width="2.5" stroke-linejoin="round" stroke-linecap="round"/>
<circle cx="156.4" cy="340.6" r="7.85" fill="#fff" stroke="#000" stroke-width="1.95"/>
<path d="M203.6,124.1 L211.5,139.65 L195.7,139.65 Z" fill="#fff" stroke="#000" stroke-width="1.95" stroke-linejoin="miter"/>
<rect x="331.05" y="32.1" width="15.399999999999977" height="15.399999999999999" fill="#fff" stroke="#000" stroke-width="1.95"/>
<circle cx="762.2" cy="340.4" r="7.85" fill="#fff" stroke="#000" stroke-width="1.95"/>
<path d="M795.4,125.4 L803.3,139.85 L787.5,139.85 Z" fill="#fff" stroke="#000" stroke-width="1.95" stroke-linejoin="miter"/>
<rect x="895.3" y="32.1" width="15.400000000000091" height="15.399999999999999" fill="#fff" stroke="#000" stroke-width="1.95"/>
<g class="tx">
<text x="78.89" y="21.50" font-size="26" transform="translate(85.75,0) scale(0.72,1) translate(-85.75,0)">1</text>
<text x="91.89" y="21.50" font-size="26">.</text>
<text x="98.39" y="21.50" font-size="26">0</text>
<text x="78.89" y="74.76" font-size="26">0</text>
<text x="91.89" y="74.76" font-size="26">.</text>
<text x="98.39" y="74.76" font-size="26">8</text>
<text x="78.67" y="128.02" font-size="26">0</text>
<text x="91.67" y="128.02" font-size="26">.</text>
<text x="98.17" y="128.02" font-size="26">6</text>
<text x="78.31" y="181.28" font-size="26">0</text>
<text x="91.31" y="181.28" font-size="26">.</text>
<text x="97.81" y="181.28" font-size="26">4</text>
<text x="79.33" y="234.54" font-size="26">0</text>
<text x="92.33" y="234.54" font-size="26">.</text>
<text x="98.83" y="234.54" font-size="26">2</text>
<text x="98.39" y="287.80" font-size="26">0</text>
<text x="79.33" y="341.06" font-size="26">0</text>
<text x="92.33" y="341.06" font-size="26">.</text>
<text x="98.83" y="341.06" font-size="26">2</text>
<rect x="62.40" y="333.73" width="14.60" height="1.3" fill="#000"/>
<text x="78.31" y="394.32" font-size="26">0</text>
<text x="91.31" y="394.32" font-size="26">.</text>
<text x="97.81" y="394.32" font-size="26">4</text>
<rect x="62.40" y="387.11" width="14.60" height="1.3" fill="#000"/>
<text x="78.67" y="447.58" font-size="26">0</text>
<text x="91.67" y="447.58" font-size="26">.</text>
<text x="98.17" y="447.58" font-size="26">6</text>
<rect x="62.40" y="440.49" width="14.60" height="1.3" fill="#000"/>
<text x="78.89" y="500.84" font-size="26">0</text>
<text x="91.89" y="500.84" font-size="26">.</text>
<text x="98.39" y="500.84" font-size="26">8</text>
<rect x="62.40" y="493.87" width="14.60" height="1.3" fill="#000"/>
<text x="78.89" y="554.10" font-size="26" transform="translate(85.75,0) scale(0.72,1) translate(-85.75,0)">1</text>
<text x="91.89" y="554.10" font-size="26">.</text>
<text x="98.39" y="554.10" font-size="26">0</text>
<rect x="62.40" y="547.25" width="14.60" height="1.3" fill="#000"/>
<text x="665.49" y="21.50" font-size="26" transform="translate(672.35,0) scale(0.72,1) translate(-672.35,0)">1</text>
<text x="678.49" y="21.50" font-size="26">.</text>
<text x="684.99" y="21.50" font-size="26">0</text>
<text x="665.49" y="74.76" font-size="26">0</text>
<text x="678.49" y="74.76" font-size="26">.</text>
<text x="684.99" y="74.76" font-size="26">8</text>
<text x="665.27" y="128.02" font-size="26">0</text>
<text x="678.27" y="128.02" font-size="26">.</text>
<text x="684.77" y="128.02" font-size="26">6</text>
<text x="664.91" y="181.28" font-size="26">0</text>
<text x="677.91" y="181.28" font-size="26">.</text>
<text x="684.41" y="181.28" font-size="26">4</text>
<text x="665.93" y="234.54" font-size="26">0</text>
<text x="678.93" y="234.54" font-size="26">.</text>
<text x="685.43" y="234.54" font-size="26">2</text>
<text x="684.99" y="287.80" font-size="26">0</text>
<text x="665.93" y="341.06" font-size="26">0</text>
<text x="678.93" y="341.06" font-size="26">.</text>
<text x="685.43" y="341.06" font-size="26">2</text>
<rect x="649.00" y="333.73" width="14.60" height="1.3" fill="#000"/>
<text x="664.91" y="394.32" font-size="26">0</text>
<text x="677.91" y="394.32" font-size="26">.</text>
<text x="684.41" y="394.32" font-size="26">4</text>
<rect x="649.00" y="387.11" width="14.60" height="1.3" fill="#000"/>
<text x="665.27" y="447.58" font-size="26">0</text>
<text x="678.27" y="447.58" font-size="26">.</text>
<text x="684.77" y="447.58" font-size="26">6</text>
<rect x="649.00" y="440.49" width="14.60" height="1.3" fill="#000"/>
<text x="665.49" y="500.84" font-size="26">0</text>
<text x="678.49" y="500.84" font-size="26">.</text>
<text x="684.99" y="500.84" font-size="26">8</text>
<rect x="649.00" y="493.87" width="14.60" height="1.3" fill="#000"/>
<text x="665.49" y="554.10" font-size="26" transform="translate(672.35,0) scale(0.72,1) translate(-672.35,0)">1</text>
<text x="678.49" y="554.10" font-size="26">.</text>
<text x="684.99" y="554.10" font-size="26">0</text>
<rect x="649.00" y="547.25" width="14.60" height="1.3" fill="#000"/>
<text x="103.04" y="577.00" font-size="26" transform="translate(109.90,0) scale(0.72,1) translate(-109.90,0)">1</text>
<text x="115.90" y="577.00" font-size="26">0</text>
<text x="128.52" y="567.30" font-size="17">4</text>
<text x="251.64" y="577.00" font-size="26" transform="translate(258.50,0) scale(0.72,1) translate(-258.50,0)">1</text>
<text x="264.48" y="577.00" font-size="26">0</text>
<text x="276.97" y="567.30" font-size="17">5</text>
<text x="400.24" y="577.00" font-size="26" transform="translate(407.10,0) scale(0.72,1) translate(-407.10,0)">1</text>
<text x="413.06" y="577.00" font-size="26">0</text>
<text x="425.60" y="567.30" font-size="17">6</text>
<text x="548.84" y="577.00" font-size="26" transform="translate(555.70,0) scale(0.72,1) translate(-555.70,0)">1</text>
<text x="561.64" y="577.00" font-size="26">0</text>
<text x="573.97" y="567.30" font-size="17">7</text>
<text x="689.74" y="578.50" font-size="26" transform="translate(696.60,0) scale(0.72,1) translate(-696.60,0)">1</text>
<text x="702.80" y="578.50" font-size="26">0</text>
<text x="715.65" y="569.00" font-size="17">2</text>
<text x="801.79" y="578.50" font-size="26" transform="translate(808.65,0) scale(0.72,1) translate(-808.65,0)">1</text>
<text x="814.80" y="578.50" font-size="26">0</text>
<text x="827.48" y="569.00" font-size="17">3</text>
<text x="913.84" y="578.50" font-size="26" transform="translate(920.70,0) scale(0.72,1) translate(-920.70,0)">1</text>
<text x="926.80" y="578.50" font-size="26">0</text>
<text x="939.52" y="569.00" font-size="17">4</text>
<text x="1025.89" y="578.50" font-size="26" transform="translate(1032.75,0) scale(0.72,1) translate(-1032.75,0)">1</text>
<text x="1038.80" y="578.50" font-size="26">0</text>
<text x="1051.39" y="569.00" font-size="17">5</text>
<text x="1137.94" y="578.50" font-size="26" transform="translate(1144.80,0) scale(0.72,1) translate(-1144.80,0)">1</text>
<text x="1150.80" y="578.50" font-size="26">0</text>
<text x="1163.44" y="569.00" font-size="17">6</text>
<text x="2.13" y="24.00" font-size="29">(</text>
<text x="11.74" y="24.60" font-size="29" font-style="italic">a</text>
<text x="27.52" y="24.00" font-size="29">)</text>
<text x="609.13" y="24.00" font-size="29">(</text>
<text x="618.72" y="24.60" font-size="29" font-style="italic">b</text>
<text x="634.22" y="24.00" font-size="29">)</text>
<text x="0.41" y="287.60" font-size="29" font-style="italic">y</text>
<line x1="15.8" y1="293.4" x2="25.3" y2="268.1" stroke="#000" stroke-width="1.5"/>
<text x="27.73" y="287.90" font-size="29.5" font-style="italic">h</text>
<text x="240.66" y="617.80" font-size="28.5">|</text>
<text x="247.47" y="617.80" font-size="28.5">d</text>
<text x="264.72" y="617.80" font-size="28.5" font-style="italic">ρ</text>
<rect x="265.90" y="600.20" width="16.20" height="1.4" fill="#000"/>
<line x1="281.1" y1="623.6" x2="290.0" y2="598.5" stroke="#000" stroke-width="1.5"/>
<text x="292.77" y="617.80" font-size="28.5">d</text>
<text x="309.78" y="617.80" font-size="28.5" font-style="italic">y</text>
<text x="321.86" y="617.80" font-size="28.5">|</text>
<text x="338.75" y="617.80" font-size="28.5">(</text>
<text x="348.66" y="617.80" font-size="28.5">k</text>
<text x="362.88" y="617.80" font-size="28.5">g</text>
<text x="386.00" y="617.80" font-size="28.5">m</text>
<rect x="411.2" y="601.25" width="11.2" height="1.3" fill="#000"/>
<text x="423.64" y="606.70" font-size="18.5">4</text>
<text x="433.78" y="617.80" font-size="28.5">)</text>
<text x="837.77" y="622.80" font-size="28.5">d</text>
<text x="852.74" y="622.80" font-size="28.5" font-style="italic">T</text>
<rect x="855.20" y="598.20" width="15.90" height="1.4" fill="#000"/>
<line x1="871.7" y1="629.3" x2="880.2" y2="603.8" stroke="#000" stroke-width="1.5"/>
<text x="882.57" y="622.80" font-size="28.5">d</text>
<text x="900.38" y="622.80" font-size="28.5" font-style="italic">y</text>
<text x="921.25" y="622.80" font-size="28.5">(</text>
<text x="931.58" y="622.80" font-size="28.5">K</text>
<text x="960.10" y="622.80" font-size="28.5">m</text>
<rect x="984.6" y="606.75" width="11.4" height="1.3" fill="#000"/>
<text x="998.67" y="612.00" font-size="18.5">1</text>
<text x="1008.28" y="622.80" font-size="28.5">)</text>
</g>
</svg>
</body></html>
